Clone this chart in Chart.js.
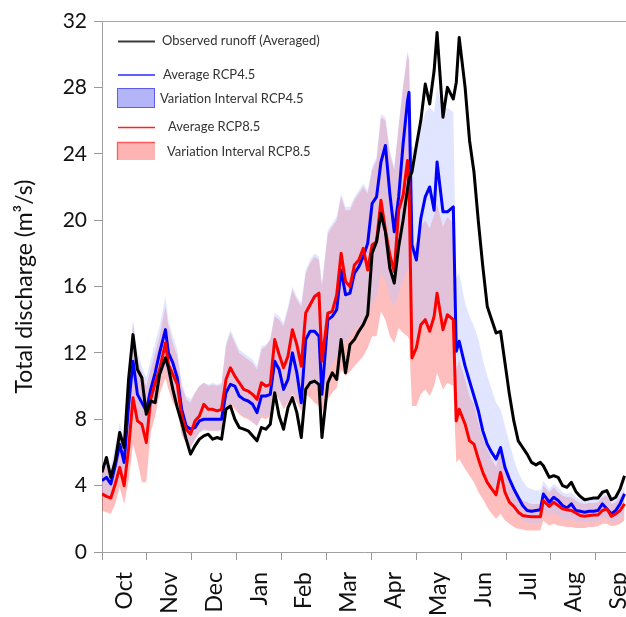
<!DOCTYPE html>
<html><head><meta charset="utf-8">
<script src="https://cdn.jsdelivr.net/npm/chart.js@4"></script>
<style>html,body{margin:0;padding:0;background:#fff;overflow:hidden}</style>
</head><body>
<canvas id="c" width="626" height="617"></canvas>
<script>
// Day of hydrological year (0 = 1 Oct)
const days = [
0,3,6,9,12,15,18,21,24,27,
30,33,36,39,43,45,48,51,54,57,
60,63,66,69,72,75,78,81,84,87,
90,93,96,99,102,105,108,111,114,117,
120,123,126,129,132,135,138,141,144,147,
149,153,156,159,162,165,168,171,174,177,
180,183,186,189,192,195,198,201,204,207,
208,210,213,216,219,222,225,227,231,234,
238,240,242,246,249,252,255,258,261,264,
267,270,273,276,279,282,285,288,291,294,
297,299,303,306,309,312,315,318,321,324,
327,330,333,336,339,342,345,348,351,354];

const observed = [
4.8,5.7,4.5,5.5,7.2,6.3,10.4,13.1,11.0,10.5,
8.3,9.1,9.0,10.7,11.7,11.1,9.8,8.7,7.8,6.8,
5.9,6.4,6.8,7.0,7.1,6.8,6.9,6.8,8.6,8.8,
8.0,7.5,7.4,7.3,7.0,6.7,7.5,7.4,7.7,9.6,
8.2,7.4,8.7,9.3,8.4,6.9,9.8,10.2,10.3,10.1,
6.9,10.2,10.8,10.4,12.8,10.8,12.5,12.8,13.3,13.7,
14.3,18.0,18.7,20.4,19.3,17.1,16.2,18.4,20.0,21.9,
22.5,22.9,24.5,26.0,28.2,27.0,29.0,31.3,26.2,28.0,
27.3,28.3,31.0,28.0,24.8,22.9,19.9,17.2,14.8,14.0,
13.2,13.3,11.4,9.5,7.9,6.7,6.3,5.9,5.4,5.25,
5.4,5.2,4.5,4.6,4.5,4.0,3.9,4.2,3.65,3.35,
3.15,3.2,3.25,3.25,3.6,3.7,3.15,3.3,3.8,4.6];

const avgRCP45 = [
4.3,4.5,4.1,5.2,6.5,5.4,8.8,11.5,9.5,9.0,
8.5,9.8,10.8,12.0,13.4,12.0,11.4,10.5,8.6,7.6,
7.4,7.5,7.9,8.0,8.0,8.0,8.0,8.0,9.6,10.1,
10.0,9.4,9.2,9.1,8.9,8.4,9.4,9.4,9.5,11.5,
11.0,9.8,10.4,12.0,10.8,9.0,12.8,13.3,13.3,13.0,
9.5,14.0,14.2,14.6,17.0,15.5,15.6,16.8,17.2,17.8,
18.6,21.0,21.4,23.5,24.5,21.6,19.3,21.4,24.6,27.2,
27.7,18.5,17.6,20.1,21.4,22.0,20.6,23.5,20.5,20.5,
20.8,12.1,12.7,11.2,10.3,9.4,8.5,7.3,6.5,6.0,
5.6,6.3,5.1,4.4,3.8,3.3,2.8,2.5,2.45,2.5,
2.55,3.5,3.0,3.3,3.1,2.8,2.65,2.9,2.5,2.45,
2.4,2.45,2.45,2.5,2.9,2.6,2.3,2.5,2.9,3.5];

const avgRCP85 = [
3.5,3.35,3.25,4.1,5.1,4.0,6.2,9.3,7.9,7.7,
6.6,9.2,10.2,11.0,12.6,11.3,10.7,10.1,8.2,7.4,
7.1,7.9,8.2,8.9,8.6,8.6,8.5,8.6,10.4,11.1,
10.6,10.2,9.8,9.7,9.5,9.2,10.2,10.0,10.1,12.8,
11.9,11.1,11.8,13.4,12.5,11.2,14.4,14.9,15.4,15.6,
11.5,14.4,14.5,15.5,18.0,16.3,16.0,17.3,17.6,18.3,
17.0,18.5,18.7,21.2,19.4,17.9,16.9,20.6,21.5,23.6,
22.2,11.7,12.3,13.7,14.0,13.3,14.2,15.6,13.4,14.3,
14.0,7.9,8.6,7.7,6.7,6.5,5.6,4.8,4.2,3.8,
3.45,4.8,3.6,3.0,2.75,2.4,2.2,2.15,2.13,2.13,
2.13,3.1,2.75,3.0,2.8,2.6,2.55,2.5,2.35,2.2,
2.15,2.2,2.23,2.23,2.5,2.6,2.15,2.3,2.5,2.9];

const minRCP45 = [
3.4,3.5,3.2,4.0,5.2,4.2,6.6,9.2,7.6,7.2,
6.8,8.2,9.2,10.2,11.2,10.4,9.8,9.0,7.2,6.6,
6.4,6.8,7.2,7.3,7.3,7.3,7.3,7.3,8.6,9.0,
8.8,8.4,8.2,8.1,7.9,7.6,8.2,8.2,8.3,9.6,
9.3,8.8,9.1,9.6,9.2,8.6,9.8,10.0,10.0,9.8,
9.0,10.8,11.3,11.8,12.8,12.6,13.0,13.4,13.6,13.8,
14.0,15.0,15.4,16.8,16.4,15.4,14.8,15.6,16.4,17.0,
17.0,12.5,12.8,13.8,14.0,13.5,14.0,15.0,13.5,14.0,
14.0,8.2,8.6,7.8,7.2,6.6,5.9,5.2,4.6,4.1,
3.7,4.1,3.3,2.9,2.5,2.2,1.9,1.8,1.75,1.75,
1.75,2.5,2.2,2.4,2.2,2.0,1.95,2.0,1.85,1.8,
1.8,1.8,1.8,1.85,2.1,2.0,1.8,1.85,2.0,2.4];

const maxRCP45 = [
5.2,5.6,5.2,6.4,7.8,6.8,10.6,14.0,12.0,11.2,
10.5,11.6,12.6,13.6,15.4,14.0,13.0,12.2,10.2,9.4,
9.2,9.6,10.0,10.2,10.1,10.2,10.1,10.2,12.6,13.4,
12.8,12.2,12.0,11.8,11.6,11.2,12.4,12.5,12.8,14.4,
14.2,13.8,14.8,16.0,15.4,15.0,17.0,17.6,18.0,17.8,
16.2,19.4,19.8,20.2,21.6,20.8,20.8,21.4,21.8,22.2,
21.8,23.2,23.8,26.4,26.2,24.2,23.2,25.8,28.2,30.2,
29.8,24.5,24.0,25.5,26.5,26.8,26.5,28.0,26.5,26.8,
26.5,16.5,16.8,15.0,14.2,13.6,12.8,11.6,10.6,9.8,
9.0,8.6,7.6,6.6,5.6,4.8,4.3,3.9,3.8,3.7,
3.7,4.3,3.8,4.1,3.9,3.6,3.5,3.6,3.3,3.2,
3.15,3.2,3.2,3.25,3.6,3.4,3.0,3.2,3.5,4.0];

const minRCP85 = [
2.5,2.4,2.3,2.9,3.9,2.9,4.3,6.5,5.5,4.2,
4.2,7.2,8.2,9.5,10.5,9.8,9.0,8.6,7.0,6.6,
6.3,6.8,7.2,7.4,7.3,7.3,7.3,7.4,8.5,8.9,
8.6,8.3,8.1,8.0,7.8,7.6,8.1,8.0,8.2,9.6,
9.2,8.6,9.0,9.5,9.0,8.5,9.5,9.3,9.0,8.8,
8.5,9.2,9.6,9.9,11.0,10.6,10.9,11.2,11.5,11.8,
12.3,13.0,13.0,14.5,14.0,13.0,12.6,13.5,13.2,13.0,
12.8,8.8,8.8,9.5,9.8,9.4,10.0,10.8,9.8,10.2,
10.0,5.4,5.6,5.0,4.6,4.2,3.6,3.2,2.7,2.3,
2.0,2.3,1.9,1.7,1.5,1.4,1.35,1.3,1.3,1.3,
1.3,1.9,1.6,1.7,1.6,1.55,1.5,1.5,1.45,1.45,
1.45,1.5,1.5,1.55,1.7,1.7,1.55,1.6,1.7,1.9];

const maxRCP85 = [
4.8,5.2,4.8,5.8,7.2,6.2,9.8,13.8,11.6,10.8,
10.0,11.0,12.0,13.0,14.8,13.6,12.6,11.8,10.0,9.2,
9.0,9.6,10.0,10.2,10.0,10.1,10.0,10.1,12.4,13.2,
12.6,12.0,11.8,11.6,11.4,11.0,12.2,12.4,12.8,14.2,
14.0,13.6,14.6,15.8,15.2,14.8,16.8,17.4,17.8,17.6,
16.0,19.2,19.6,20.0,21.4,20.6,20.6,21.2,21.6,22.0,
21.6,23.0,23.6,26.2,26.0,24.0,23.0,25.6,28.0,30.0,
29.6,18.4,18.6,19.6,20.0,19.5,20.3,21.0,19.6,20.2,
19.8,11.0,11.6,10.4,9.4,8.9,7.8,6.9,6.2,5.6,
5.1,6.3,5.0,4.3,3.9,3.4,3.1,3.0,2.9,2.9,
2.9,4.0,3.6,3.9,3.6,3.4,3.3,3.3,3.1,2.95,
2.9,2.95,2.95,3.0,3.3,3.4,2.9,3.0,3.3,3.7];

const monthLabels = ['Oct','Nov','Dec','Jan','Feb','Mar','Apr','May','Jun','Jul','Aug','Sep'];
const yTicks = [0,4,8,12,16,20,24,28,32];
const xMax = 355;
const monthLen = 365/12;

// tick positions: month boundaries (tick marks) and mid-months (labels)
const xTickVals = [], xTickLabels = [];
monthLabels.forEach((m,k)=>{
  xTickVals.push(k*monthLen); xTickLabels.push('');
  xTickVals.push((k+0.5)*monthLen); xTickLabels.push(m);
});

const pts = arr => days.map((d,i)=>({x:d, y:arr[i]}));
const FONT = 'Lato';

const legendPlugin = {
  id:'manualLegend',
  afterDraw(chart){
    const ctx = chart.ctx, a = chart.chartArea;
    ctx.save();
    // top frame line
    ctx.strokeStyle = '#a8a8a8'; ctx.lineWidth = 1;
    ctx.beginPath(); ctx.moveTo(a.left, a.top+0.5); ctx.lineTo(a.right, a.top+0.5); ctx.stroke();
    const line = (x1,y,x2,c,w)=>{ctx.strokeStyle=c; ctx.lineWidth=w; ctx.beginPath(); ctx.moveTo(x1,y); ctx.lineTo(x2,y); ctx.stroke();};
    ctx.font = '13px ' + FONT; ctx.fillStyle = '#333'; ctx.textBaseline = 'middle';
    line(118,41.5,155,'#3a3a3a',2.2);
    ctx.fillText('Observed runoff (Averaged)',162,41);
    line(118,75,155,'#2a2aff',1.3);
    ctx.fillStyle = '#333'; ctx.fillText('Average RCP4.5',163,75);
    ctx.fillStyle = '#b4b4f8'; ctx.fillRect(117,88,38,20);
    ctx.strokeStyle = '#5c5cf0'; ctx.lineWidth = 1; ctx.strokeRect(117.5,88.5,37,19);
    ctx.fillStyle = '#333'; ctx.fillText('Variation Interval RCP4.5',160,98.5);
    line(118,127.5,155,'#ff2020',1.3);
    ctx.fillStyle = '#333'; ctx.fillText('Average RCP8.5',168,126.5);
    ctx.fillStyle = '#ffb4b4'; ctx.fillRect(117,142,38,18);
    ctx.strokeStyle = '#ff5a5a'; ctx.beginPath(); ctx.moveTo(117.5,160); ctx.lineTo(117.5,142.5); ctx.lineTo(155,142.5); ctx.stroke();
    ctx.fillStyle = '#333'; ctx.fillText('Variation Interval RCP8.5',167,152);
    ctx.restore();
  }
};

const noPt = {pointRadius:0, pointHoverRadius:0};
new Chart(document.getElementById('c'), {
  type:'line',
  data:{datasets:[
    {label:'Observed runoff (Averaged)', data:pts(observed), borderColor:'#000', borderWidth:3, order:0, fill:false, ...noPt},
    {label:'Average RCP8.5', data:pts(avgRCP85), borderColor:'#ff0000', borderWidth:3, order:1, fill:false, ...noPt},
    {label:'Average RCP4.5', data:pts(avgRCP45), borderColor:'#0000ff', borderWidth:3, order:2, fill:false, ...noPt},
    {label:'max RCP4.5', data:pts(maxRCP45), borderWidth:0, borderColor:'rgba(0,0,0,0)', backgroundColor:'rgba(190,198,255,0.45)', fill:'+1', order:3, ...noPt},
    {label:'min RCP4.5', data:pts(minRCP45), borderWidth:0, borderColor:'rgba(0,0,0,0)', fill:false, order:3, ...noPt},
    {label:'max RCP8.5', data:pts(maxRCP85), borderWidth:0, borderColor:'rgba(0,0,0,0)', backgroundColor:'rgba(255,40,40,0.3)', fill:'+1', order:5, ...noPt},
    {label:'min RCP8.5', data:pts(minRCP85), borderWidth:0, borderColor:'rgba(0,0,0,0)', fill:false, order:5, ...noPt}
  ]},
  options:{
    responsive:false, animation:false, devicePixelRatio:1,
    layout:{padding:{top:21,right:0,bottom:0,left:0}},
    plugins:{legend:{display:false}, tooltip:{enabled:false}},
    elements:{line:{tension:0, borderJoinStyle:'round'}},
    scales:{
      x:{type:'linear', min:0, max:xMax,
        afterBuildTicks:s=>{s.ticks = xTickVals.map(v=>({value:v}));},
        ticks:{autoSkip:false, maxRotation:90, minRotation:90, padding:12,
          font:{family:FONT, size:23}, color:'#111',
          callback:(v,i)=>xTickLabels[i]},
        grid:{drawOnChartArea:false, tickLength:8, tickColor:c=>(c.index%2===0?'#999':'rgba(0,0,0,0)')},
        border:{color:'#a0a0a0'},
        afterFit:s=>{s.height=65; s.paddingLeft=0; s.paddingRight=0;}
      },
      y:{min:0, max:32,
        afterBuildTicks:s=>{s.ticks = yTicks.map(v=>({value:v}));},
        ticks:{font:{family:FONT, size:21}, color:'#111', padding:7},
        grid:{drawOnChartArea:false, tickLength:8, tickColor:'#999'},
        border:{color:'#a0a0a0'},
        title:{display:true, text:'Total discharge (m³/s)', font:{family:FONT, size:23}, color:'#111', padding:{top:11,bottom:0}},
        afterFit:s=>{s.width=102; s.paddingTop=0; s.paddingBottom=0;}
      }
    }
  },
  plugins:[legendPlugin]
});
</script>
</body></html>
